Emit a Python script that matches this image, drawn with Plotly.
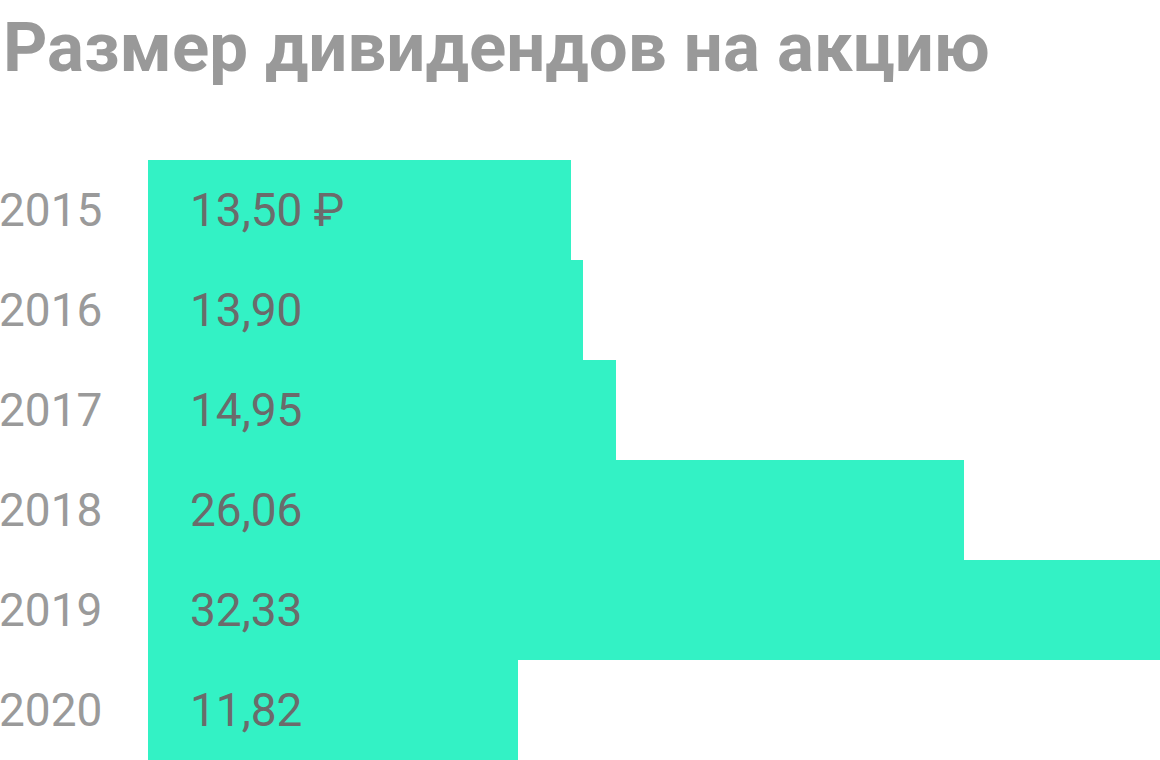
import plotly.graph_objects as go

years = ["2015", "2016", "2017", "2018", "2019", "2020"]
dividends = [13.50, 13.90, 14.95, 26.06, 32.33, 11.82]
value_labels = ["13,50 ₽", "13,90", "14,95", "26,06", "32,33", "11,82"]

BAR_COLOR = "#33F2C5"
TITLE_COLOR = "#999999"
YEAR_COLOR = "#9a9a9a"
VALUE_COLOR = "#6b6b6b"

fig = go.Figure(
    data=[
        go.Bar(
            y=years,
            x=dividends,
            orientation="h",
            marker=dict(color=BAR_COLOR, line=dict(width=0)),
            hoverinfo="skip",
        )
    ]
)

# numeric-looking category names would be read as indexes, so place by index
for i, (year, label) in enumerate(zip(years, value_labels)):
    fig.add_annotation(
        x=0, y=i, xref="paper", yref="y",
        text=year, showarrow=False,
        xanchor="right", yanchor="middle", xshift=-44,
        font=dict(family="Roboto", size=46, color=YEAR_COLOR),
    )
    fig.add_annotation(
        x=0, y=i, xref="x", yref="y",
        text=label, showarrow=False,
        xanchor="left", yanchor="middle", xshift=40,
        font=dict(family="Roboto", size=46, color=VALUE_COLOR),
    )

fig.add_annotation(
    x=0, y=1, xref="paper", yref="paper",
    xshift=-147, yshift=113,
    xanchor="left", yanchor="middle",
    text="<b>Размер дивидендов на акцию</b>", showarrow=False,
    font=dict(family="Roboto", size=69, color=TITLE_COLOR),
)

fig.update_layout(
    width=1160,
    height=760,
    bargap=0,
    showlegend=False,
    plot_bgcolor="white",
    paper_bgcolor="white",
    xaxis=dict(range=[0, max(dividends)], showgrid=False, zeroline=False,
               showticklabels=False, ticks=""),
    yaxis=dict(
        type="category",
        range=[len(years) - 0.5, -0.5],
        showgrid=False, zeroline=False, ticks="",
        showticklabels=False,
    ),
    margin=dict(l=148, r=0, t=160, b=0),
)

# drop the default body margin so the figure fills the window exactly
fig.write_html(
    "out.html",
    config={"displayModeBar": False},
    post_script="document.body.style.margin='0'; document.body.style.overflow='hidden';",
)
